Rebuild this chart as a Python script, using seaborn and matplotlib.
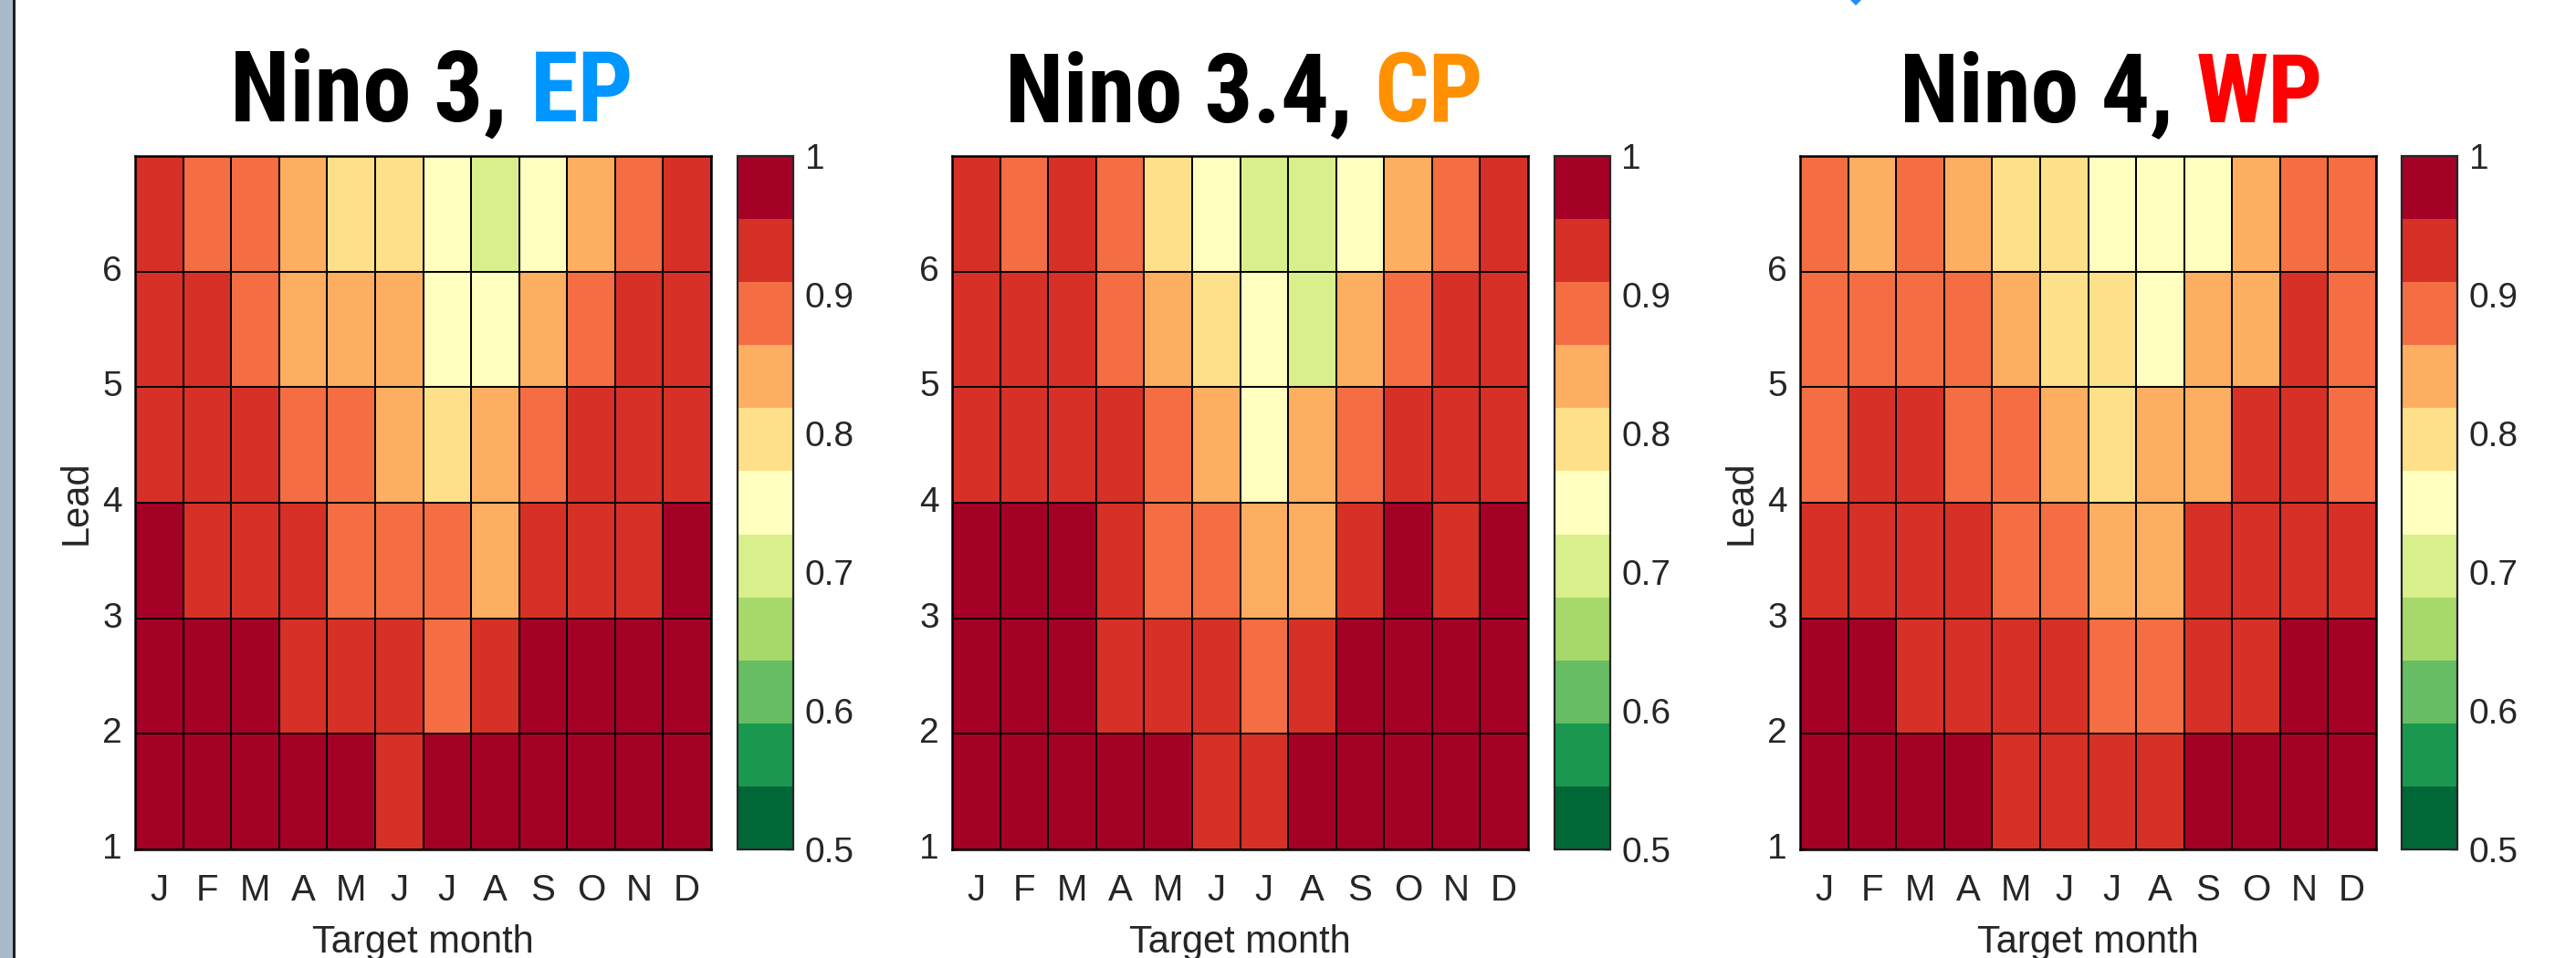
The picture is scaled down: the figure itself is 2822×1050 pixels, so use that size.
import numpy as np
import pandas as pd
import matplotlib
matplotlib.use("Agg")
import matplotlib.pyplot as plt
from matplotlib import font_manager
from matplotlib.colors import ListedColormap
from matplotlib.patches import Rectangle, Polygon
import seaborn as sns

# ---------------- data (rows = lead 1..6, columns = target month J..D) -------------
months = ["J", "F", "M", "A", "M", "J", "J", "A", "S", "O", "N", "D"]
leads = [1, 2, 3, 4, 5, 6]

nino3 = [
    [0.98, 0.98, 0.98, 0.98, 0.98, 0.93, 0.98, 0.98, 0.98, 0.98, 0.98, 0.98],
    [0.98, 0.98, 0.98, 0.93, 0.93, 0.93, 0.89, 0.93, 0.98, 0.98, 0.98, 0.98],
    [0.98, 0.93, 0.93, 0.93, 0.89, 0.89, 0.89, 0.84, 0.93, 0.93, 0.93, 0.98],
    [0.93, 0.93, 0.93, 0.89, 0.89, 0.84, 0.80, 0.84, 0.89, 0.93, 0.93, 0.93],
    [0.93, 0.93, 0.89, 0.84, 0.84, 0.84, 0.75, 0.75, 0.84, 0.89, 0.93, 0.93],
    [0.93, 0.89, 0.89, 0.84, 0.80, 0.80, 0.75, 0.70, 0.75, 0.84, 0.89, 0.93],
]
nino34 = [
    [0.98, 0.98, 0.98, 0.98, 0.98, 0.93, 0.93, 0.98, 0.98, 0.98, 0.98, 0.98],
    [0.98, 0.98, 0.98, 0.93, 0.93, 0.93, 0.89, 0.93, 0.98, 0.98, 0.98, 0.98],
    [0.98, 0.98, 0.98, 0.93, 0.89, 0.89, 0.84, 0.84, 0.93, 0.98, 0.93, 0.98],
    [0.93, 0.93, 0.93, 0.93, 0.89, 0.84, 0.75, 0.84, 0.89, 0.93, 0.93, 0.93],
    [0.93, 0.93, 0.93, 0.89, 0.84, 0.80, 0.75, 0.70, 0.84, 0.89, 0.93, 0.93],
    [0.93, 0.89, 0.93, 0.89, 0.80, 0.75, 0.70, 0.70, 0.75, 0.84, 0.89, 0.93],
]
nino4 = [
    [0.98, 0.98, 0.98, 0.98, 0.93, 0.93, 0.93, 0.93, 0.98, 0.98, 0.98, 0.98],
    [0.98, 0.98, 0.93, 0.93, 0.93, 0.93, 0.89, 0.89, 0.93, 0.93, 0.98, 0.98],
    [0.93, 0.93, 0.93, 0.93, 0.89, 0.89, 0.84, 0.84, 0.93, 0.93, 0.93, 0.93],
    [0.89, 0.93, 0.93, 0.89, 0.89, 0.84, 0.80, 0.84, 0.84, 0.93, 0.93, 0.89],
    [0.89, 0.89, 0.89, 0.89, 0.84, 0.80, 0.80, 0.75, 0.84, 0.84, 0.93, 0.89],
    [0.89, 0.84, 0.89, 0.84, 0.80, 0.80, 0.75, 0.75, 0.75, 0.84, 0.89, 0.89],
]

title_black = ["Nino 3, ", "Nino 3.4, ", "Nino 4, "]
title_colored = ["EP", "CP", "WP"]
title_colors = ["#0096ff", "#ff9000", "#ff0000"]
cbar_ticks = [0.5, 0.6, 0.7, 0.8, 0.9, 1.0]
cbar_ticklabels = ["0.5", "0.6", "0.7", "0.8", "0.9", "1"]

# RdYlGn 11-class (reversed: green low, red high)
rdylgn11 = ["#006837", "#1a9850", "#66bd63", "#a6d96a", "#d9ef8b", "#ffffbf",
            "#fee08b", "#fdae61", "#f46d43", "#d73027", "#a50026"]
cmap = ListedColormap(rdylgn11)

# ---------------- styling ----------------
sns.set_style("white")
plt.rcParams["font.family"] = ["Liberation Sans", "DejaVu Sans"]
TXT = "#262626"

# pick a condensed bold face for the titles if one is installed
installed = {f.name for f in font_manager.fontManager.ttflist}
title_family = "Liberation Sans"
for cand in ["Liberation Sans Narrow", "Arial Narrow", "Roboto Condensed",
             "Open Sans Condensed", "Noto Sans Condensed", "Nimbus Sans Narrow"]:
    if cand in installed:
        title_family = cand
        break

W, H = 2822, 1050
fig = plt.figure(figsize=(W / 100, H / 100), dpi=100)
fig.patch.set_facecolor("white")

# left grey strip (window edge)
fig.add_artist(Rectangle((0, 0), 14 / W, 1, transform=fig.transFigure,
                         facecolor="#a9b9c9", edgecolor="none"))
fig.add_artist(Rectangle((14 / W, 0), 2.5 / W, 1, transform=fig.transFigure,
                         facecolor="#1e1e1e", edgecolor="none"))
# small clipped blue mark at the very top edge
fig.add_artist(Polygon([(2027 / W, 1.0), (2039 / W, 1.0), (2033 / W, 1 - 6 / H)],
                       closed=True, transform=fig.transFigure,
                       facecolor="#1e90ff", edgecolor="none"))

bottom_px, top_px = 931, 171
ax_b = 1 - bottom_px / H
ax_h = (bottom_px - top_px) / H
ax_lefts = [148, 1043, 1972]
ax_w = 631
cax_lefts = [808, 1703, 2631]
cax_w = 61
title_centers = [473, 1363, 2313]
title_widths = [432, 505, 450]

datasets = [nino3, nino34, nino4]
show_ylabel = [True, False, True]

fig.canvas.draw()
renderer = fig.canvas.get_renderer()

for i, data in enumerate(datasets):
    ax = fig.add_axes([ax_lefts[i] / W, ax_b, ax_w / W, ax_h])
    cax = fig.add_axes([cax_lefts[i] / W, ax_b, cax_w / W, ax_h])
    df = pd.DataFrame(data, index=leads, columns=range(12)).iloc[::-1]
    sns.heatmap(df, ax=ax, cbar_ax=cax, cmap=cmap, vmin=0.5, vmax=1.0,
                linewidths=1.1, linecolor="black", square=False)

    ax.set_xticks(np.arange(12) + 0.5)
    ax.set_xticklabels(months, rotation=0, fontsize=29, color=TXT)
    ax.set_yticks([6, 5, 4, 3, 2, 1])
    ax.set_yticklabels([str(l) for l in leads], rotation=0, fontsize=28, color=TXT)
    ax.tick_params(axis="x", direction="in", length=5, width=1, pad=19,
                   top=True, bottom=True, color=TXT)
    ax.tick_params(axis="y", direction="in", length=5, width=1, pad=10,
                   left=True, right=True, color=TXT)
    for s in ax.spines.values():
        s.set_visible(True)
        s.set_color("black")
        s.set_linewidth(1.8)

    ax.set_xlabel("Target month", fontsize=30, color=TXT, labelpad=13)
    if show_ylabel[i]:
        ax.set_ylabel("Lead", fontsize=30, color=TXT, labelpad=6)
    else:
        ax.set_ylabel("")

    cbar = ax.collections[0].colorbar
    cbar.set_ticks(cbar_ticks)
    cbar.set_ticklabels(cbar_ticklabels)
    cbar.outline.set_edgecolor(TXT)
    cbar.outline.set_linewidth(1.6)
    cax.tick_params(direction="in", length=6, width=1, labelsize=28, pad=9,
                    colors=TXT)

    # two-colour title
    xc = title_centers[i] / W
    yb = 1 - 133 / H
    fs = 80
    tkw = dict(fontweight="bold", family=[title_family, "DejaVu Sans"],
               va="baseline", transform=fig.transFigure)
    probe = fig.text(xc, yb, title_black[i] + title_colored[i], ha="center",
                     fontsize=fs, **tkw)
    wnat = probe.get_window_extent(renderer=renderer).width
    probe.remove()
    if wnat > title_widths[i]:
        fs = fs * (title_widths[i] / wnat) ** 0.6
    full = fig.text(xc, yb, title_black[i] + title_colored[i], ha="center",
                    fontsize=fs, **tkw)
    bb = full.get_window_extent(renderer=renderer)
    full.remove()
    fig.text(bb.x0 / W, yb, title_black[i].rstrip(), ha="left", color="black",
             fontsize=fs, **tkw)
    fig.text(bb.x1 / W, yb, title_colored[i], ha="right", color=title_colors[i],
             fontsize=fs, **tkw)

fig.savefig("out.png", dpi=100)
